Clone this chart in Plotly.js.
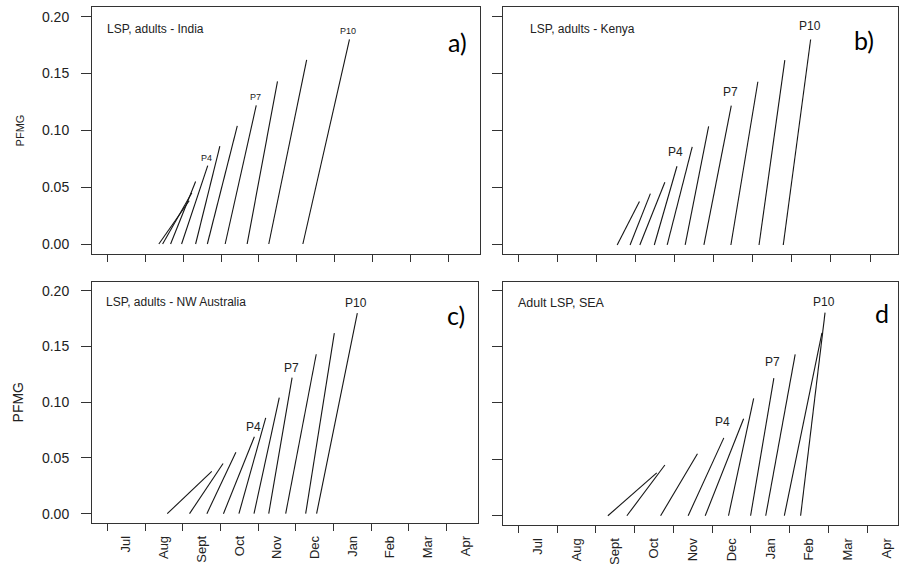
<!DOCTYPE html>
<html>
<head>
<meta charset="utf-8">
<script src="https://cdn.plot.ly/plotly-3.0.1.min.js"></script>
<style>
  html, body { margin: 0; padding: 0; background: #fff; }
  #chart { width: 899px; height: 564px; }
</style>
</head>
<body>
<div id="chart"></div>
<script>
// Size classes and the PFMG value each class reaches
const sizeClasses = ['P1', 'P2', 'P3', 'P4', 'P5', 'P6', 'P7', 'P8', 'P9', 'P10'];
const pfmg = [0.038, 0.045, 0.055, 0.069, 0.086, 0.104, 0.122, 0.143, 0.162, 0.180];

// Season timing in months since 1 July (start at PFMG 0, end at full PFMG)
const indiaStart = [1.36, 1.46, 1.67, 1.96, 2.33, 2.64, 3.11, 3.69, 4.26, 5.16];
const indiaEnd   = [2.16, 2.23, 2.33, 2.65, 2.97, 3.43, 3.93, 4.49, 5.26, 6.39];

const kenyaStart = [2.53, 2.86, 3.11, 3.48, 3.81, 4.27, 4.75, 5.44, 6.16, 6.78];
const kenyaEnd   = [3.10, 3.38, 3.75, 4.06, 4.45, 4.87, 5.45, 6.13, 6.82, 7.48];

const nwAusStart = [1.59, 2.18, 2.64, 3.08, 3.49, 3.89, 4.28, 4.73, 5.26, 5.55];
const nwAusEnd   = [2.77, 3.07, 3.41, 3.90, 4.20, 4.56, 4.90, 5.54, 6.02, 6.63];

const seaStart = [2.31, 2.80, 3.67, 4.38, 4.82, 5.42, 5.99, 6.38, 6.86, 7.28];
const seaEnd   = [3.57, 3.78, 4.62, 5.30, 5.81, 6.07, 6.59, 7.14, 7.83, 7.91];

// Axis labels
const monthLabels = ['Jul', 'Aug', 'Sept', 'Oct', 'Nov', 'Dec', 'Jan', 'Feb', 'Mar', 'Apr'];
const pfmgTicks = [0, 0.05, 0.10, 0.15, 0.20];
const labelledClasses = ['P4', 'P7', 'P10'];

// Panel layout (pixel boxes) and styling
const W = 899, H = 564;
const fx = p => p / W;
const fy = p => 1 - p / H;

const panels = [
  { n: '',  start: indiaStart, end: indiaEnd, title: 'LSP, adults - India', letter: 'a)',
    box: [92, 480, 7, 254], xr: [-0.404, 9.834], yr: [-0.0088, 0.2085],
    showX: false, showY: true, titlePos: [105, 29], letterPos: [457, 42],
    labelSize: 9, labelShifts: [8, 8, 8], yTitleSize: 11, titleSize: 12 },
  { n: '2', start: kenyaStart, end: kenyaEnd, title: 'LSP, adults - Kenya', letter: 'b)',
    box: [502.7, 898, 7, 254], xr: [-0.399, 9.716], yr: [-0.0079, 0.2085],
    showX: false, showY: false, titlePos: [528, 29], letterPos: [864, 40],
    labelSize: 12, labelShifts: [14, 14, 14], titleSize: 12 },
  { n: '3', start: nwAusStart, end: nwAusEnd, title: 'LSP, adults - NW Australia', letter: 'c)',
    box: [92, 477.7, 281.7, 522.7], xr: [-0.406, 9.822], yr: [-0.0081, 0.2081],
    showX: true, showY: true, titlePos: [104, 302], letterPos: [456, 315],
    labelSize: 12, labelShifts: [10, 10, 10], yTitleSize: 14, titleSize: 12 },
  { n: '4', start: seaStart, end: seaEnd, title: 'Adult LSP, SEA', letter: 'd',
    box: [502.7, 898, 281.7, 525], xr: [-0.402, 9.791], yr: [-0.0082, 0.2074],
    showX: true, showY: false, titlePos: [516, 303], letterPos: [882, 313],
    labelSize: 12, labelShifts: [16, 16, 11], titleSize: 12.5 }
];

const lineColor = '#151515';
const axisColor = '#333';
const textFont = 'Liberation Sans, Arial, sans-serif';
const letterFont = 'Lato, Liberation Sans, sans-serif';

const traces = [];
const annotations = [];
const layout = {
  width: W, height: H,
  margin: { l: 0, r: 0, t: 0, b: 0 },
  paper_bgcolor: '#fff', plot_bgcolor: '#fff',
  showlegend: false,
  font: { family: textFont, color: '#222', size: 12 },
  annotations: annotations
};

panels.forEach(p => {
  const xs = [], ys = [];
  sizeClasses.forEach((c, i) => {
    xs.push(p.start[i], p.end[i], null);
    ys.push(0, pfmg[i], null);
  });
  traces.push({
    type: 'scatter', mode: 'lines',
    x: xs, y: ys,
    xaxis: 'x' + p.n, yaxis: 'y' + p.n,
    line: { color: lineColor, width: 1.1 },
    hoverinfo: 'skip'
  });

  layout['xaxis' + p.n] = {
    domain: [fx(p.box[0]), fx(p.box[1])],
    anchor: 'y' + p.n,
    range: p.xr,
    tickmode: 'array',
    tickvals: monthLabels.map((m, i) => i + 0.5),
    ticktext: monthLabels,
    tickangle: -90,
    ticks: 'outside', ticklen: 7, tickcolor: 'rgba(0,0,0,0)',
    minor: { tickmode: 'linear', tick0: 0, dtick: 1, ticks: 'outside',
             ticklen: 7, tickwidth: 1, tickcolor: axisColor, showgrid: false },
    showticklabels: p.showX,
    tickfont: { size: 13, color: '#222', family: textFont },
    showline: true, mirror: true, linecolor: axisColor, linewidth: 1,
    showgrid: false, zeroline: false, fixedrange: true
  };

  const ya = {
    domain: [fy(p.box[3]), fy(p.box[2])],
    anchor: 'x' + p.n,
    range: p.yr,
    tickmode: 'array',
    tickvals: pfmgTicks,
    tickformat: '.2f',
    ticks: 'outside', ticklen: 10, tickwidth: 1, tickcolor: axisColor,
    ticklabelstandoff: 9,
    showticklabels: p.showY,
    tickfont: { size: 14, color: '#222', family: textFont },
    showline: true, mirror: true, linecolor: axisColor, linewidth: 1,
    showgrid: false, zeroline: false, fixedrange: true
  };
  if (p.showY) {
    ya.title = { text: 'PFMG', font: { size: p.yTitleSize, color: '#222', family: textFont },
                 standoff: 15 };
  }
  layout['yaxis' + p.n] = ya;

  // Panel description
  annotations.push({
    xref: 'paper', yref: 'paper',
    x: fx(p.titlePos[0]), y: fy(p.titlePos[1]),
    xanchor: 'left', yanchor: 'middle', showarrow: false,
    text: p.title, font: { size: p.titleSize, color: '#222', family: textFont }
  });
  // Panel letter
  annotations.push({
    xref: 'paper', yref: 'paper',
    x: fx(p.letterPos[0]), y: fy(p.letterPos[1]),
    xanchor: 'center', yanchor: 'middle', showarrow: false,
    text: p.letter, font: { size: 25, color: '#000', family: letterFont }
  });
  // Size-class labels at the top of their lines
  labelledClasses.forEach((c, k) => {
    const i = sizeClasses.indexOf(c);
    annotations.push({
      xref: 'x' + p.n, yref: 'y' + p.n,
      x: p.end[i], y: pfmg[i],
      xanchor: 'center', yanchor: 'middle', yshift: p.labelShifts[k], xshift: -1,
      showarrow: false, text: c,
      font: { size: p.labelSize, color: '#222', family: textFont }
    });
  });
});

Plotly.newPlot('chart', traces, layout, { staticPlot: true, displayModeBar: false });
</script>
</body>
</html>
